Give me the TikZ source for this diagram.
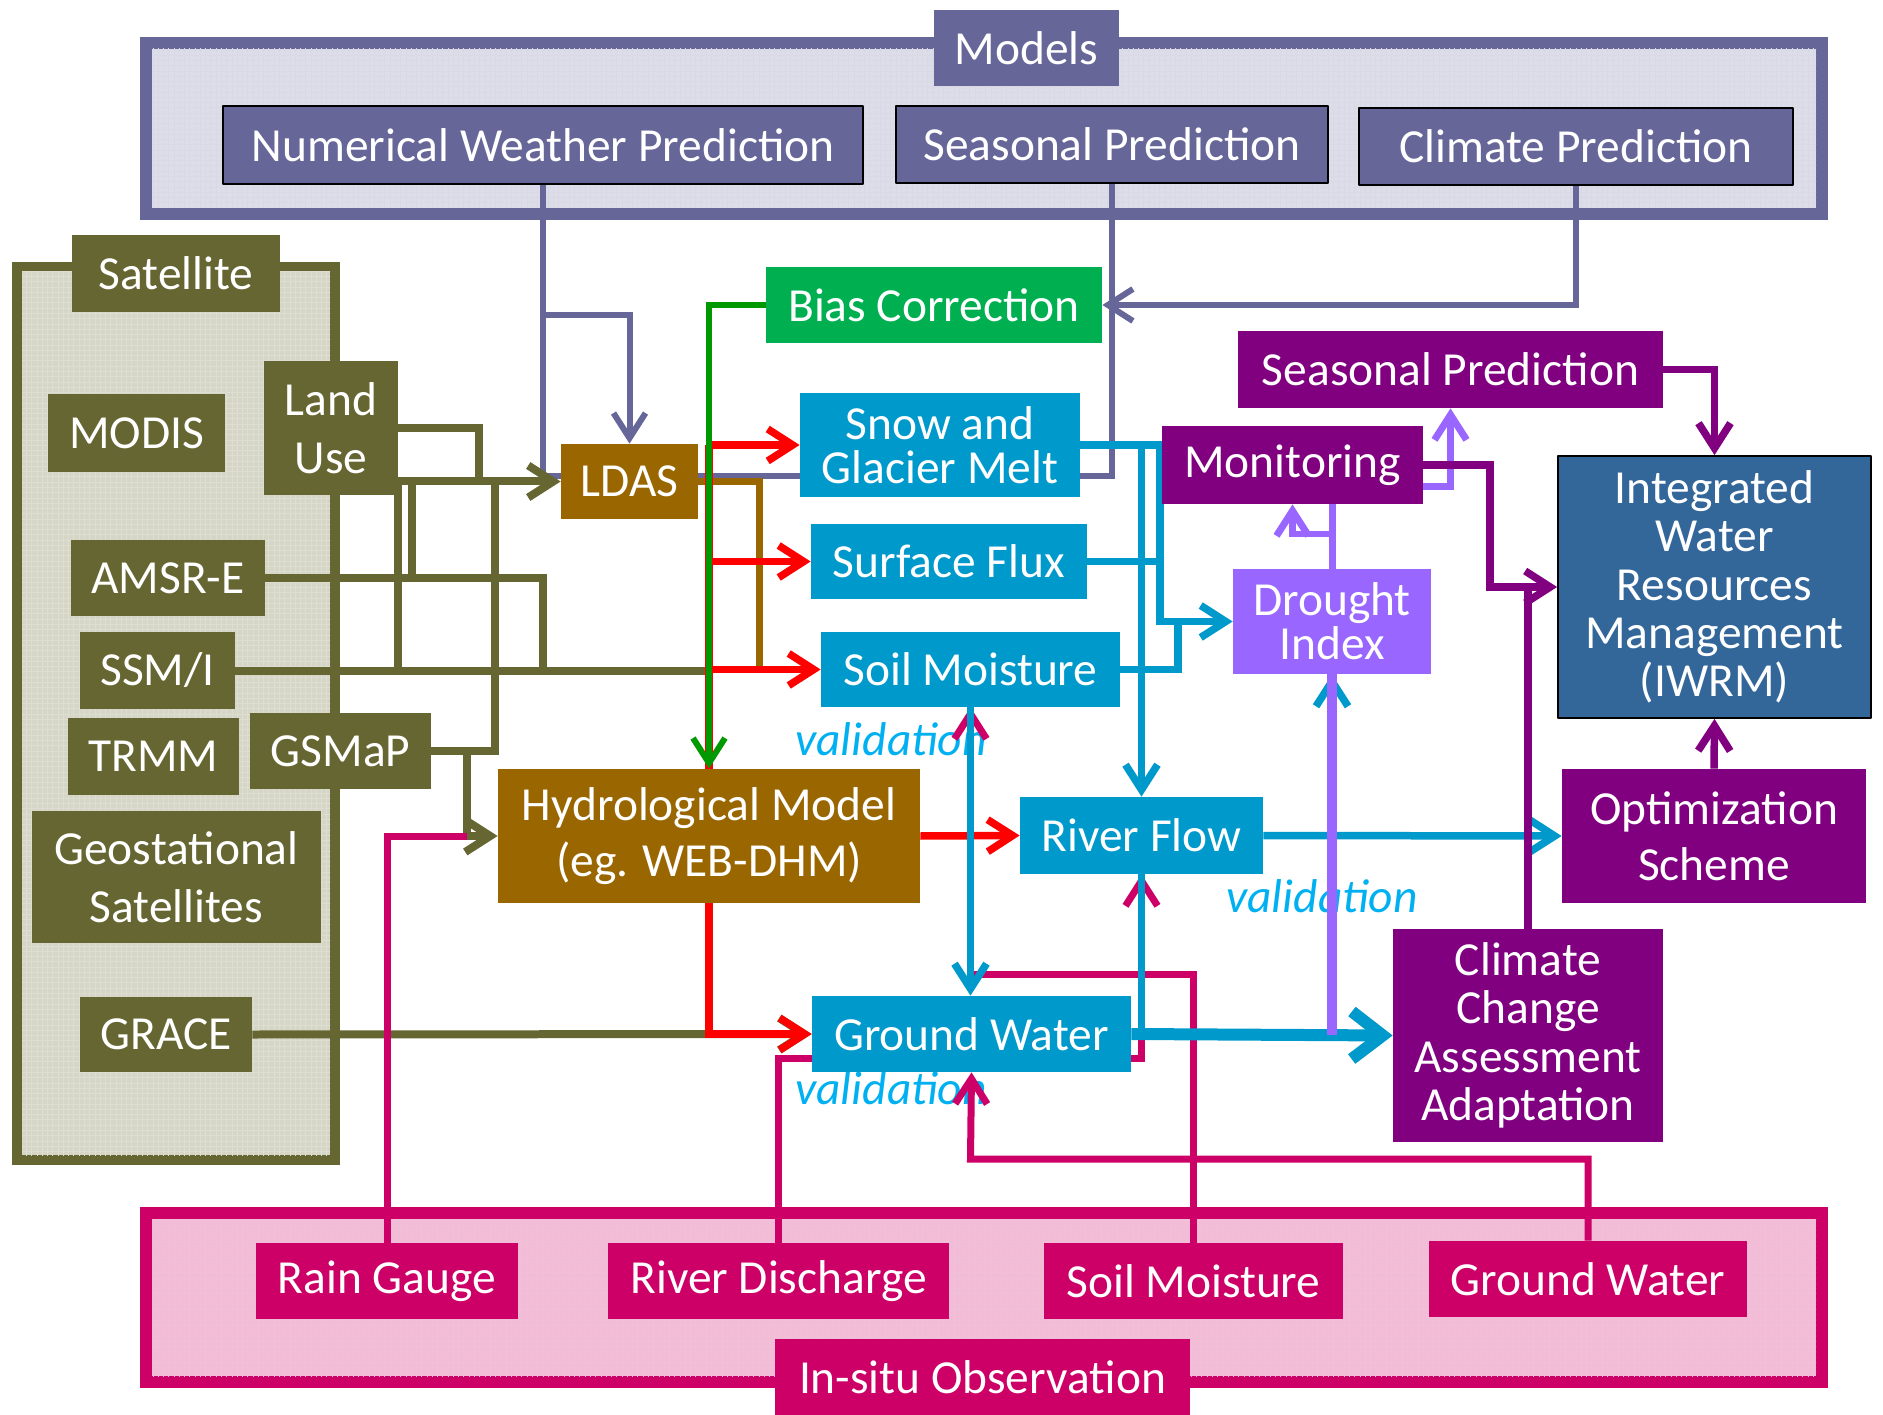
\documentclass[tikz,border=0pt]{standalone}
\usepackage{fontspec}
\setmainfont{Carlito}
\usetikzlibrary{arrows.meta,patterns}
\definecolor{modcol}{HTML}{666699}
\definecolor{modfill}{HTML}{DDDDEA}
\definecolor{olcol}{HTML}{666633}
\definecolor{olfill}{HTML}{D6D6C6}
\definecolor{brcol}{HTML}{996600}
\definecolor{gbox}{HTML}{00B050}
\definecolor{gcol}{HTML}{009900}
\definecolor{cycol}{HTML}{0099CC}
\definecolor{pucol}{HTML}{800080}
\definecolor{lacol}{HTML}{9966FF}
\definecolor{iwcol}{HTML}{336699}
\definecolor{mgcol}{HTML}{CC0066}
\definecolor{mgfill}{HTML}{F2BCD6}
\definecolor{valcol}{HTML}{00B0F0}
\pgfdeclarelayer{back}
\pgfdeclarelayer{lines}
\pgfsetlayers{back,lines,main}

\begin{document}
\begin{tikzpicture}[x=0.02cm,y=-0.02cm,
  >={Straight Barb[length=0.5cm,width=0.64cm]},
  line join=round,
  box/.style={text=white,inner sep=0pt,align=center,font=\fontsize{27}{30}\selectfont},
  sz/.style 2 args={minimum width=#1*0.02cm,minimum height=#2*0.02cm},
  modbox/.style={box,fill=modcol},
  olbox/.style={box,fill=olcol},
  cybox/.style={box,fill=cycol},
  pubox/.style={box,fill=pucol},
  mgbox/.style={box,fill=mgcol},
  val/.style={text=valcol,inner sep=0pt,font=\fontsize{27}{30}\selectfont\itshape},
  mline/.style={draw=modcol,line width=0.12cm},
  oline/.style={draw=olcol,line width=0.16cm},
  rline/.style={draw=red,line width=0.15cm},
  gline/.style={draw=gcol,line width=0.12cm},
  bline/.style={draw=brcol,line width=0.14cm},
  cline/.style={draw=cycol,line width=0.15cm},
  mgline/.style={draw=mgcol,line width=0.14cm},
  laline/.style={draw=lacol,line width=0.14cm},
  puline/.style={draw=pucol,line width=0.15cm}]
\useasboundingbox (0,0) rectangle (1883,1415);

% frames
\begin{pgfonlayer}{back}
  \filldraw[draw=modcol,fill=modfill,line width=0.24cm] (146,43) rectangle (1822,214);
  \fill[pattern=grid,pattern color=modcol!25] (152,49) rectangle (1816,208);
  \filldraw[draw=olcol,fill=olfill,line width=0.2cm] (17,267) rectangle (335,1160);
  \fill[pattern=grid,pattern color=olcol!22] (22,272) rectangle (330,1155);
  \filldraw[draw=mgcol,fill=mgfill,line width=0.24cm] (146,1213) rectangle (1822,1382);
  \fill[pattern=grid,pattern color=mgcol!25] (152,1219) rectangle (1816,1376);
  \node[val] (val1) at (891,739) {validation};
  \node[val] (val2) at (1322,896) {validation};
  \node[val] (val3) at (891,1088) {validation};
\end{pgfonlayer}

% models
\node[modbox,sz={185}{76}] (models) at (1026.5,48) {Models};
\node[modbox,draw=black,line width=1pt,sz={640}{78}] (nwp) at (543,145) {Numerical Weather Prediction};
\node[modbox,draw=black,line width=1pt,sz={432}{77}] (seas) at (1112,144.5) {Seasonal Prediction};
\node[modbox,draw=black,line width=1pt,sz={434}{77}] (clim) at (1576,146.5) {Climate Prediction};

% satellite
\node[olbox,sz={208}{77}] (sat) at (176,273.5) {Satellite};
\node[olbox,sz={177}{78}] (modis) at (136.5,433) {MODIS};
\node[olbox,sz={134}{134},font=\fontsize{27}{33}\selectfont] (landuse) at (331,428) {Land\\Use};
\node[olbox,sz={194}{76}] (amsr) at (168,578) {AMSR-E};
\node[olbox,sz={155}{77}] (ssmi) at (157.5,670.5) {SSM/I};
\node[olbox,sz={171}{77}] (trmm) at (153.5,756.5) {TRMM};
\node[olbox,sz={181}{76}] (gsmap) at (340.5,751) {GSMaP};
\node[olbox,sz={289}{132},font=\fontsize{27}{33}\selectfont] (geo) at (176.5,877) {Geostational\\Satellites};
\node[olbox,sz={172}{75}] (grace) at (166,1034.5) {GRACE};

% model chain
\node[box,fill=brcol,sz={137}{75}] (ldas) at (629.5,481.5) {LDAS};
\node[box,fill=gbox,sz={336}{76}] (bias) at (934,305) {Bias Correction};
\node[cybox,sz={280}{104},font=\fontsize{27}{25}\selectfont] (snow) at (940,445) {Snow and\\Glacier Melt};
\node[cybox,sz={276}{75}] (flux) at (949,561.5) {Surface Flux};
\node[cybox,sz={299}{75}] (soil) at (970.5,669.5) {Soil Moisture};
\node[box,fill=brcol,sz={422}{134},font=\fontsize{27}{32}\selectfont] (hydro) at (709,836) {Hydrological Model\\(eg. WEB-DHM)};
\node[cybox,sz={243}{77}] (river) at (1141.5,835.5) {River Flow};
\node[cybox,sz={319}{76}] (gw) at (971.5,1034) {Ground Water};

% applications
\node[pubox,sz={425}{77}] (seasp) at (1450.5,369.5) {Seasonal Prediction};
\node[pubox,sz={261}{78}] (monit) at (1292.5,465) {Monitoring};
\node[box,fill=lacol,sz={198}{105},font=\fontsize{27}{25}\selectfont] (drought) at (1332,621.5) {Drought\\Index};
\node[box,fill=iwcol,draw=black,line width=1pt,sz={313}{262},font=\fontsize{27}{27.5}\selectfont] (iwrm) at (1714.5,587) {Integrated\\Water\\Resources\\Management\\(IWRM)};
\node[pubox,sz={304}{134},font=\fontsize{27}{32}\selectfont] (optim) at (1714,836) {Optimization\\Scheme};
\node[pubox,sz={270}{213},font=\fontsize{27}{27.5}\selectfont] (ccaa) at (1528,1035.5) {Climate\\Change\\Assessment\\Adaptation};

% in-situ
\node[mgbox,sz={415}{76}] (insitu) at (982.5,1377) {In-situ Observation};
\node[mgbox,sz={262}{76}] (rain) at (387,1281) {Rain Gauge};
\node[mgbox,sz={341}{76}] (disch) at (778.5,1281) {River Discharge};
\node[mgbox,sz={299}{76}] (soilobs) at (1193.5,1281) {Soil Moisture};
\node[mgbox,sz={318}{76}] (gwobs) at (1588,1279) {Ground Water};

\coordinate (mj) at (543,476);
\coordinate (mb) at (543,315);
\coordinate (lu) at (479,481.5);
\coordinate (ak) at (412,578);
\coordinate (aj) at (543,670.5);
\coordinate (gj) at (495,481.5);
\coordinate (gh) at (467,836);
\coordinate (bj) at (759,670);
\coordinate (sj) at (970.5,974);
\coordinate (wj) at (970.5,1159);
\coordinate (dj) at (1141.5,1058);
\coordinate (cj) at (1160,621.5);
\coordinate (ck) at (1178,621.5);
\coordinate (lj) at (1332,487);
\coordinate (lk) at (1332,534);
\coordinate (pj) at (1490,587);
\coordinate (vj) at (1332,1035);

\begin{pgfonlayer}{lines}
  % models to LDAS and bias correction
  \draw[mline] (nwp.south) -- (mj);
  \draw[mline] (seas.south) |- (mj);
  \draw[mline,->] (mb) -| (ldas.north);
  \draw[mline,->] (clim.south) |- (bias.east);
  % satellite inputs
  \draw[oline,->] (landuse.east |- ldas.west) -- (ldas.west);
  \draw[oline] (landuse.east) -| (lu);
  \draw[oline] (amsr.east) -| (aj);
  \draw[oline] (ak) -- (ak |- ldas.west);
  \draw[oline] (ssmi.east) -- (ssmi.east -| hydro.north);
  \draw[oline] (landuse.east |- ssmi.east) -- (landuse.east |- ldas.west);
  \draw[oline] (gsmap.east) -| (gj);
  \draw[oline,->] (gsmap.east) -| (gh) -- (hydro.west);
  \draw[oline,->] (grace.east) -- (gw.west);
  \draw[bline] (ldas.east) -| (bj);
  % model outputs
  \draw[rline] (hydro.north) -- (hydro.north |- snow.west);
  \draw[rline,->] (hydro.north |- snow.west) -- (snow.west);
  \draw[rline,->] (hydro.north |- flux.west) -- (flux.west);
  \draw[rline,->] (hydro.north |- soil.west) -- (soil.west);
  \draw[rline,->] (hydro.east) -- (river.west);
  \draw[rline,->] (hydro.south) |- (gw.west);
  \draw[gline,->] (bias.west) -| (hydro.north);
  % in-situ validation
  \draw[mgline] (rain.north) |- (gh);
  \draw[mgline,->] (disch.north) |- (dj) -- (river.south);
  \draw[mgline,->] (soilobs.north) |- (sj) -- (soil.south);
  \draw[mgline,->] (gwobs.north) |- (wj) -- (gw.south);
  % hydrology
  \draw[cline,->] (soil.south) -- (soil.south |- gw.north);
  \draw[cline,->] (snow.east) -| (river.north);
  \draw[cline,->] (snow.east) -| (cj) -- (drought.west);
  \draw[cline] (flux.east) -- (flux.east -| cj);
  \draw[cline] (soil.east) -| (ck);
  \draw[cline,->] (river.east) -- (optim.west);
  \draw[cline] (river.south) -- (river.south |- vj);
  \draw[draw=cycol,line width=0.24cm,-{Straight Barb[length=0.62cm,width=0.95cm]}] (gw.east) -- (ccaa.west);
  \draw[cline,->] (vj) -- (drought.south);
  % drought index
  \draw[laline,line width=0.2cm] (vj) -- (drought.south);
  \draw[laline,->] (drought.north) |- (lj) -| (seasp.south);
  \draw[laline,->] (lk) -| (monit.south);
  % water management
  \draw[puline,->] (seasp.east) -| (iwrm.north);
  \draw[puline,->] (monit.east) -| (pj) -- (iwrm.west);
  \draw[puline] (ccaa.north) -- (ccaa.north |- iwrm.west);
  \draw[puline,->] (optim.north) -- (iwrm.south);
\end{pgfonlayer}
\end{tikzpicture}
\end{document}
